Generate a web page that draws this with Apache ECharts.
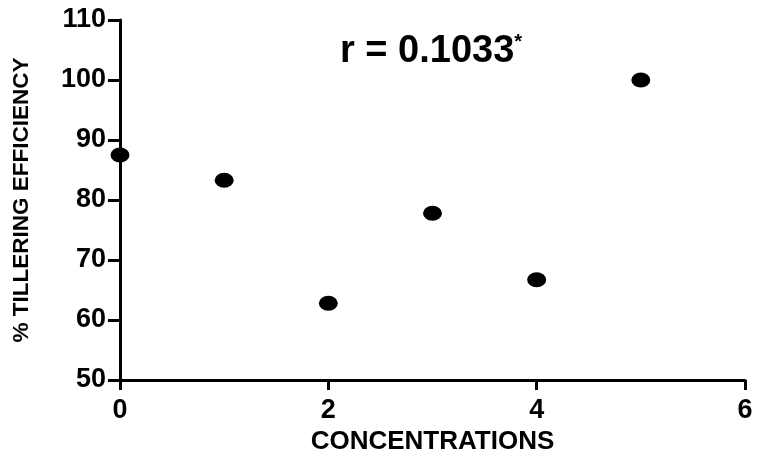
<!DOCTYPE html>
<html>
<head>
<meta charset="utf-8">
<script src="https://cdn.jsdelivr.net/npm/echarts@6/dist/echarts.min.js"></script>
<style>html,body{margin:0;padding:0;background:#fff}#c{width:763px;height:463px}</style>
</head>
<body>
<div id="c"></div>
<script>
var concentrations = [0, 1, 2, 3, 4, 5];
var tilleringEfficiency = [87.5, 83.3, 62.8, 77.8, 66.7, 100];
var xTicks = [0, 2, 4, 6];
var yTicks = [50, 60, 70, 80, 90, 100, 110];
var titleText = 'r = 0.1033';
var xName = 'CONCENTRATIONS';
var yName = '% TILLERING EFFICIENCY';

var chart = echarts.init(document.getElementById('c'));
var font = 'Liberation Sans, Arial, sans-serif';
chart.setOption({
  animation: false,
  backgroundColor: '#fff',
  title: {
    text: '{a|' + titleText + '}{b|*}',
    left: 335, top: 27,
    textStyle: {
      rich: {
        a: {fontFamily: font, fontWeight: 'bold', fontSize: 38, color: '#000'},
        b: {fontFamily: font, fontWeight: 'bold', fontSize: 20, color: '#000', verticalAlign: 'top', padding: [0,0,20,0]}
      }
    }
  },
  grid: {left: 120, right: 18, top: 20, bottom: 83},
  xAxis: {
    type: 'value', min: 0, max: 6, interval: 2,
    name: xName, nameLocation: 'middle', nameGap: 49,
    nameTextStyle: {fontFamily: font, fontWeight: 'bold', fontSize: 26, color: '#000'},
    axisLine: {show: true, onZero: false, lineStyle: {color: '#000', width: 3}},
    axisTick: {show: true, length: 10, lineStyle: {color: '#000', width: 3}},
    axisLabel: {fontFamily: font, fontWeight: 'bold', fontSize: 27, color: '#000', margin: 17,
      formatter: function (v) { return xTicks.indexOf(v) >= 0 ? String(v) : ''; }},
    splitLine: {show: false}
  },
  yAxis: {
    type: 'value', min: 50, max: 110, interval: 10,
    name: yName, nameLocation: 'middle', nameGap: 87, nameRotate: 90,
    nameTextStyle: {fontFamily: font, fontWeight: 'bold', fontSize: 22.5, color: '#000'},
    axisLine: {show: true, onZero: false, lineStyle: {color: '#000', width: 3}},
    axisTick: {show: true, length: 12, lineStyle: {color: '#000', width: 3}},
    axisLabel: {fontFamily: font, fontWeight: 'bold', fontSize: 27, color: '#000', margin: 14,
      formatter: function (v) { return yTicks.indexOf(v) >= 0 ? String(v) : ''; }},
    splitLine: {show: false}
  },
  series: [{
    type: 'scatter',
    data: concentrations.map(function (c, i) { return [c, tilleringEfficiency[i]]; }),
    symbol: 'circle',
    symbolSize: [19, 15],
    itemStyle: {color: '#000', opacity: 1},
    clip: false,
    z: 5
  }]
});
</script>
</body>
</html>
